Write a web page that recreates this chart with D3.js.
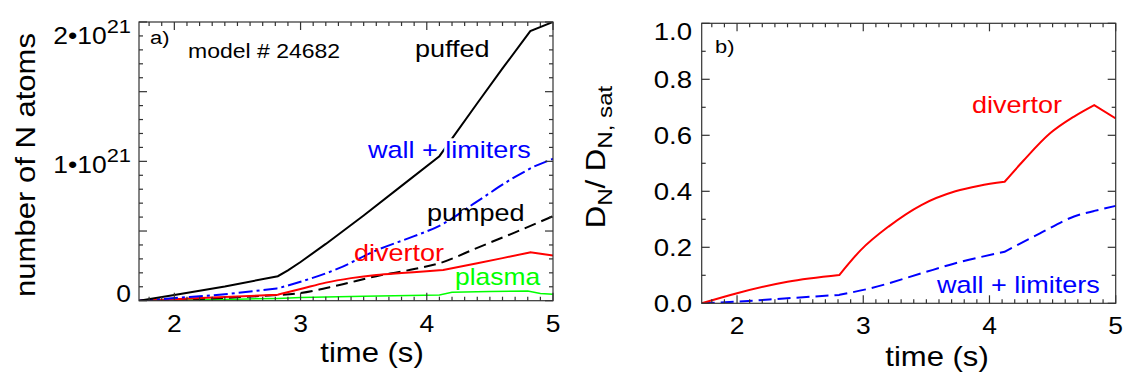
<!DOCTYPE html>
<html>
<head>
<script src="https://d3js.org/d3.v7.min.js"></script>
<style>
  body { margin: 0; background: #fff; }
  text { font-family: "Liberation Sans", Arial, Helvetica, sans-serif; }
</style>
</head>
<body>
<svg width="1127" height="378"></svg>
<script>
// panel a) : number of N atoms, in units of 1e21, vs time (s)
const puffed  = [[1.72,0],[2.0,0.045],[2.4,0.11],[2.82,0.19],[2.9,0.235],[3.0,0.30],[3.2,0.44],[3.5,0.66],[3.8,0.89],[4.1,1.12],[4.4,1.53],[4.6,1.80],[4.82,2.09],[5.0,2.16]];
const wallA   = [[1.72,0],[2.0,0.02],[2.4,0.05],[2.82,0.096],[3.0,0.147],[3.3,0.25],[3.6,0.39],[3.9,0.50],[4.1,0.58],[4.4,0.77],[4.7,0.96],[4.85,1.04],[5.0,1.10]];
const pumped  = [[1.72,0],[2.0,0.008],[2.4,0.022],[2.82,0.044],[3.0,0.06],[3.3,0.12],[3.6,0.19],[3.9,0.245],[4.1,0.29],[4.4,0.41],[4.7,0.53],[5.0,0.655]];
const divA    = [[1.72,0],[2.0,0.012],[2.4,0.028],[2.82,0.047],[3.0,0.09],[3.2,0.14],[3.4,0.175],[3.6,0.20],[3.8,0.215],[4.0,0.228],[4.13,0.238],[4.4,0.29],[4.6,0.33],[4.82,0.375],[5.0,0.35]];
const plasma  = [[1.72,0],[2.0,0.005],[2.5,0.012],[2.82,0.018],[3.0,0.025],[3.5,0.035],[4.1,0.045],[4.2,0.065],[4.5,0.072],[4.8,0.075],[4.9,0.055],[5.0,0.05]];

// panel b) : D_N / D_N,sat
const divB  = [[1.72,0],[2.0,0.036],[2.4,0.077],[2.81,0.101],[2.98,0.19],[3.2,0.274],[3.46,0.351],[3.73,0.40],[3.92,0.42],[4.12,0.434],[4.27,0.51],[4.48,0.607],[4.67,0.667],[4.83,0.708],[5.0,0.66]];
const wallB = [[1.72,0],[2.0,0.006],[2.4,0.018],[2.81,0.03],[3.06,0.054],[3.46,0.107],[3.73,0.143],[4.12,0.184],[4.4,0.25],[4.67,0.31],[4.83,0.33],[5.0,0.348]];

// times where the puffing waveform changes (curves have corners there)
const kinks = [2.82, 4.12, 4.83];

const timeRange = [1.72, 5];
const yMaxA = 2.16;
const xTickValues = [2, 3, 4, 5];
const yTickValuesA = [0, 1, 2];
const yTickNamesA = [["0", ""], ["1•10", "21"], ["2•10", "21"]];
const yTickValuesB = [0, 0.2, 0.4, 0.6, 0.8, 1.0];

const svg = d3.select("svg");
const SX = 1.15; // the original font is wider than Liberation Sans
const axisColor = "#333";

function label(x, y, str, size, color, anchor, rot) {
  return svg.append("text")
    .attr("transform", `translate(${x},${y})` + (rot ? ` rotate(${rot})` : "") + ` scale(${SX},1)`)
    .attr("text-anchor", anchor || "start")
    .attr("font-size", size)
    .attr("fill", color || "#000")
    .text(str);
}

function frame(x, y, yTicks) {
  const [x0, x1] = x.range(), [y1, y0] = y.range();
  const g = svg.append("g").attr("stroke", axisColor).attr("stroke-width", 1.2).attr("fill", "none");
  g.append("rect").attr("x", x0).attr("y", y0).attr("width", x1 - x0).attr("height", y1 - y0);
  const xTicks = d3.range(18, 51).map(i => ({ v: i / 10, major: i % 10 === 0 }));
  xTicks.forEach(d => {
    const L = d.major ? 8 : 4, p = x(d.v);
    g.append("line").attr("x1", p).attr("x2", p).attr("y1", y1).attr("y2", y1 - L);
    g.append("line").attr("x1", p).attr("x2", p).attr("y1", y0).attr("y2", y0 + L);
  });
  yTicks.forEach(d => {
    const L = d.major ? 8 : 4, p = y(d.v);
    g.append("line").attr("x1", x0).attr("x2", x0 + L).attr("y1", p).attr("y2", p);
    g.append("line").attr("x1", x1).attr("x2", x1 - L).attr("y1", p).attr("y2", p);
  });
  xTickValues.forEach(v => label(x(v), y1 + 31, String(v), 23, "#000", "middle"));
}

// smooth between corners, sharp at the corners
function curve(x, y, data, color, dash, clipId, width, smooth) {
  const line = d3.line().x(d => x(d[0])).y(d => y(d[1]))
    .curve(smooth === false ? d3.curveLinear : d3.curveMonotoneX);
  const pieces = [[data[0]]];
  data.slice(1).forEach(d => {
    pieces[pieces.length - 1].push(d);
    if (kinks.some(k => Math.abs(k - d[0]) < 0.02)) pieces.push([d]);
  });
  const path = pieces.filter(p => p.length > 1)
    .map((p, i) => i ? line(p).replace(/^M/, "L") : line(p)).join("");
  svg.append("path")
    .attr("d", path)
    .attr("fill", "none")
    .attr("stroke", color)
    .attr("stroke-width", width || 2)
    .attr("stroke-dasharray", dash || null)
    .attr("clip-path", `url(#${clipId})`);
}

function clip(id, x, y) {
  const [x0, x1] = x.range(), [y1, y0] = y.range();
  svg.append("clipPath").attr("id", id).append("rect")
    .attr("x", x0).attr("y", y0).attr("width", x1 - x0).attr("height", y1 - y0);
}

// ---------- panel a ----------
const xA = d3.scaleLinear().domain(timeRange).range([139, 553]);
const yA = d3.scaleLinear().domain([0, yMaxA]).range([300.7, 22]);
clip("clipA", xA, yA);

curve(xA, yA, plasma, "#00ff00", null, "clipA", 1.5, false);
curve(xA, yA, pumped, "#000", "12,6", "clipA");
curve(xA, yA, divA, "#ff0000", null, "clipA");
curve(xA, yA, wallA, "#0000ff", "14,4,3,4", "clipA");
curve(xA, yA, puffed, "#000", null, "clipA", 2, false);

frame(xA, yA, d3.range(0, 21).map(i => ({ v: i * yMaxA / 20, major: i % 5 === 0 })));

yTickValuesA.forEach((v, i) => {
  const t = svg.append("text")
    .attr("transform", `translate(131,${yA(v) + 1}) scale(${SX},1)`)
    .attr("text-anchor", "end")
    .attr("font-size", 23);
  t.append("tspan").text(yTickNamesA[i][0]);
  if (yTickNamesA[i][1]) t.append("tspan").attr("font-size", 19).attr("dy", -11).text(yTickNamesA[i][1]);
});

label(35, 165, "number of N atoms", 27, "#000", "middle", -90);
label(372, 362, "time (s)", 27, "#000", "middle");

label(150, 44, "a)", 19);
label(188, 58, "model # 24682", 20);
label(415, 57, "puffed", 23.5);
label(368, 158, "wall + limiters", 23.5, "#0000ff")
  .attr("stroke", "#fff").attr("stroke-width", 5).attr("paint-order", "stroke");
label(427, 221, "pumped", 23.5);
label(354, 261, "divertor", 23.5, "#ff0000");
label(455, 285, "plasma", 23, "#00ff00");

// ---------- panel b ----------
const xB = d3.scaleLinear().domain(timeRange).range([701.7, 1115.7]);
const yB = d3.scaleLinear().domain([0, 1]).range([303.3, 23.3]);
clip("clipB", xB, yB);

curve(xB, yB, wallB, "#0000ff", "13,6", "clipB");
curve(xB, yB, divB, "#ff0000", null, "clipB");

frame(xB, yB, d3.range(0, 11).map(i => ({ v: i / 10, major: i % 2 === 0 })));

// the top label sits a little lower so it stays inside the figure
yTickValuesB.forEach(v => label(692, Math.max(yB(v) + 8.5, 40), v.toFixed(1), 24, "#000", "end"));

const yt = svg.append("text")
  .attr("font-size", 27)
  .attr("text-anchor", "middle")
  .attr("transform", `translate(605,157) rotate(-90) scale(${SX},1)`);
yt.append("tspan").text("D");
yt.append("tspan").attr("font-size", 21).attr("dy", 7).text("N");
yt.append("tspan").attr("dy", -7).text("/ D");
yt.append("tspan").attr("font-size", 21).attr("dy", 7).text("N, sat");

label(937, 366, "time (s)", 27, "#000", "middle");

label(715, 53, "b)", 19);
label(972, 113, "divertor", 23.5, "#ff0000");
label(937, 293, "wall + limiters", 23.5, "#0000ff");
</script>
</body>
</html>
